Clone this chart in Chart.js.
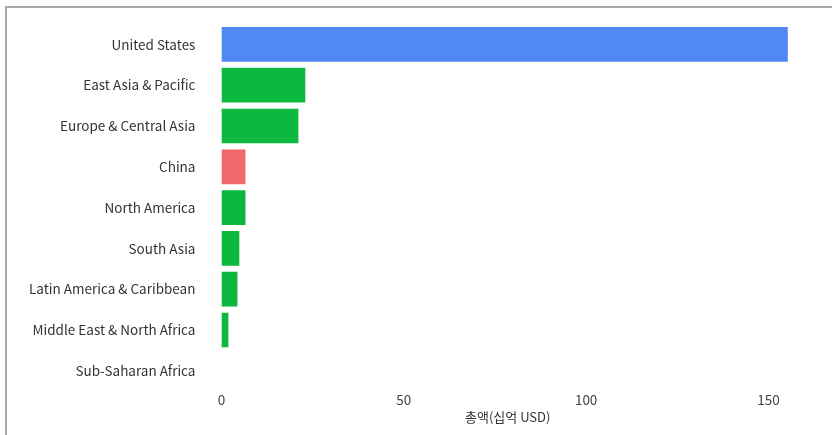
<!DOCTYPE html>
<html>
<head>
<meta charset="utf-8">
<script src="https://cdn.jsdelivr.net/npm/chart.js@4/dist/chart.umd.min.js"></script>
<style>
  html, body { margin: 0; padding: 0; background: #fff; }
  #frame {
    position: absolute;
    left: 5px; top: 6px; right: 0; bottom: 0;
    border-left: 2px solid #a8a8a8;
    border-top: 2px solid #a8a8a8;
  }
  #wrap { position: absolute; left: 0; top: 0; width: 832px; height: 435px; }
</style>
</head>
<body>
<div id="frame"></div>
<div id="wrap"><canvas id="chart"></canvas></div>
<script>
// regions sorted by total, in billions of USD
const regions = [
    'United States',
    'East Asia & Pacific',
    'Europe & Central Asia',
    'China',
    'North America',
    'South Asia',
    'Latin America & Caribbean',
    'Middle East & North Africa',
    'Sub-Saharan Africa'
];
const totals = [155.3, 23.0, 21.1, 6.6, 6.6, 4.9, 4.4, 1.9, 0];
const groups = ['us', 'region', 'region', 'china', 'region', 'region', 'region', 'region', 'region'];
const xTicks = [0, 50, 100, 150];

const groupColors = {
    us: '#5088f4',
    china: '#f2686a',
    region: '#0db83e'
};

const fontFamily = '"Noto Sans CJK KR", "Noto Sans", sans-serif';

new Chart(document.getElementById('chart'), {
    type: 'bar',
    data: {
        labels: regions,
        datasets: [{
            data: totals,
            backgroundColor: groups.map(g => groupColors[g]),
            borderWidth: 0,
            categoryPercentage: 1,
            barPercentage: 0.85
        }]
    },
    options: {
        indexAxis: 'y',
        responsive: true,
        maintainAspectRatio: false,
        animation: false,
        layout: { padding: { top: 24, right: 38, bottom: 10, left: 27 } },
        plugins: {
            legend: { display: false },
            tooltip: { enabled: false }
        },
        scales: {
            x: {
                min: 0,
                max: 157,
                afterBuildTicks: axis => { axis.ticks = xTicks.map(v => ({ value: v })); },
                grid: { display: false, drawTicks: false },
                border: { display: false },
                ticks: {
                    color: '#444',
                    padding: 1,
                    font: { family: fontFamily, size: 13.5 }
                },
                title: {
                    display: true,
                    text: '총액(십억 USD)',
                    color: '#333',
                    padding: { top: 0, bottom: 0 },
                    font: { family: fontFamily, size: 13 }
                }
            },
            y: {
                // invisible tick marks make the gap between labels and bars
                grid: {
                    drawOnChartArea: false,
                    drawTicks: true,
                    tickLength: 24,
                    color: 'rgba(0,0,0,0)'
                },
                border: { display: false },
                ticks: {
                    color: '#333',
                    padding: 2,
                    font: { family: fontFamily, size: 13.5 }
                }
            }
        }
    }
});
</script>
</body>
</html>
